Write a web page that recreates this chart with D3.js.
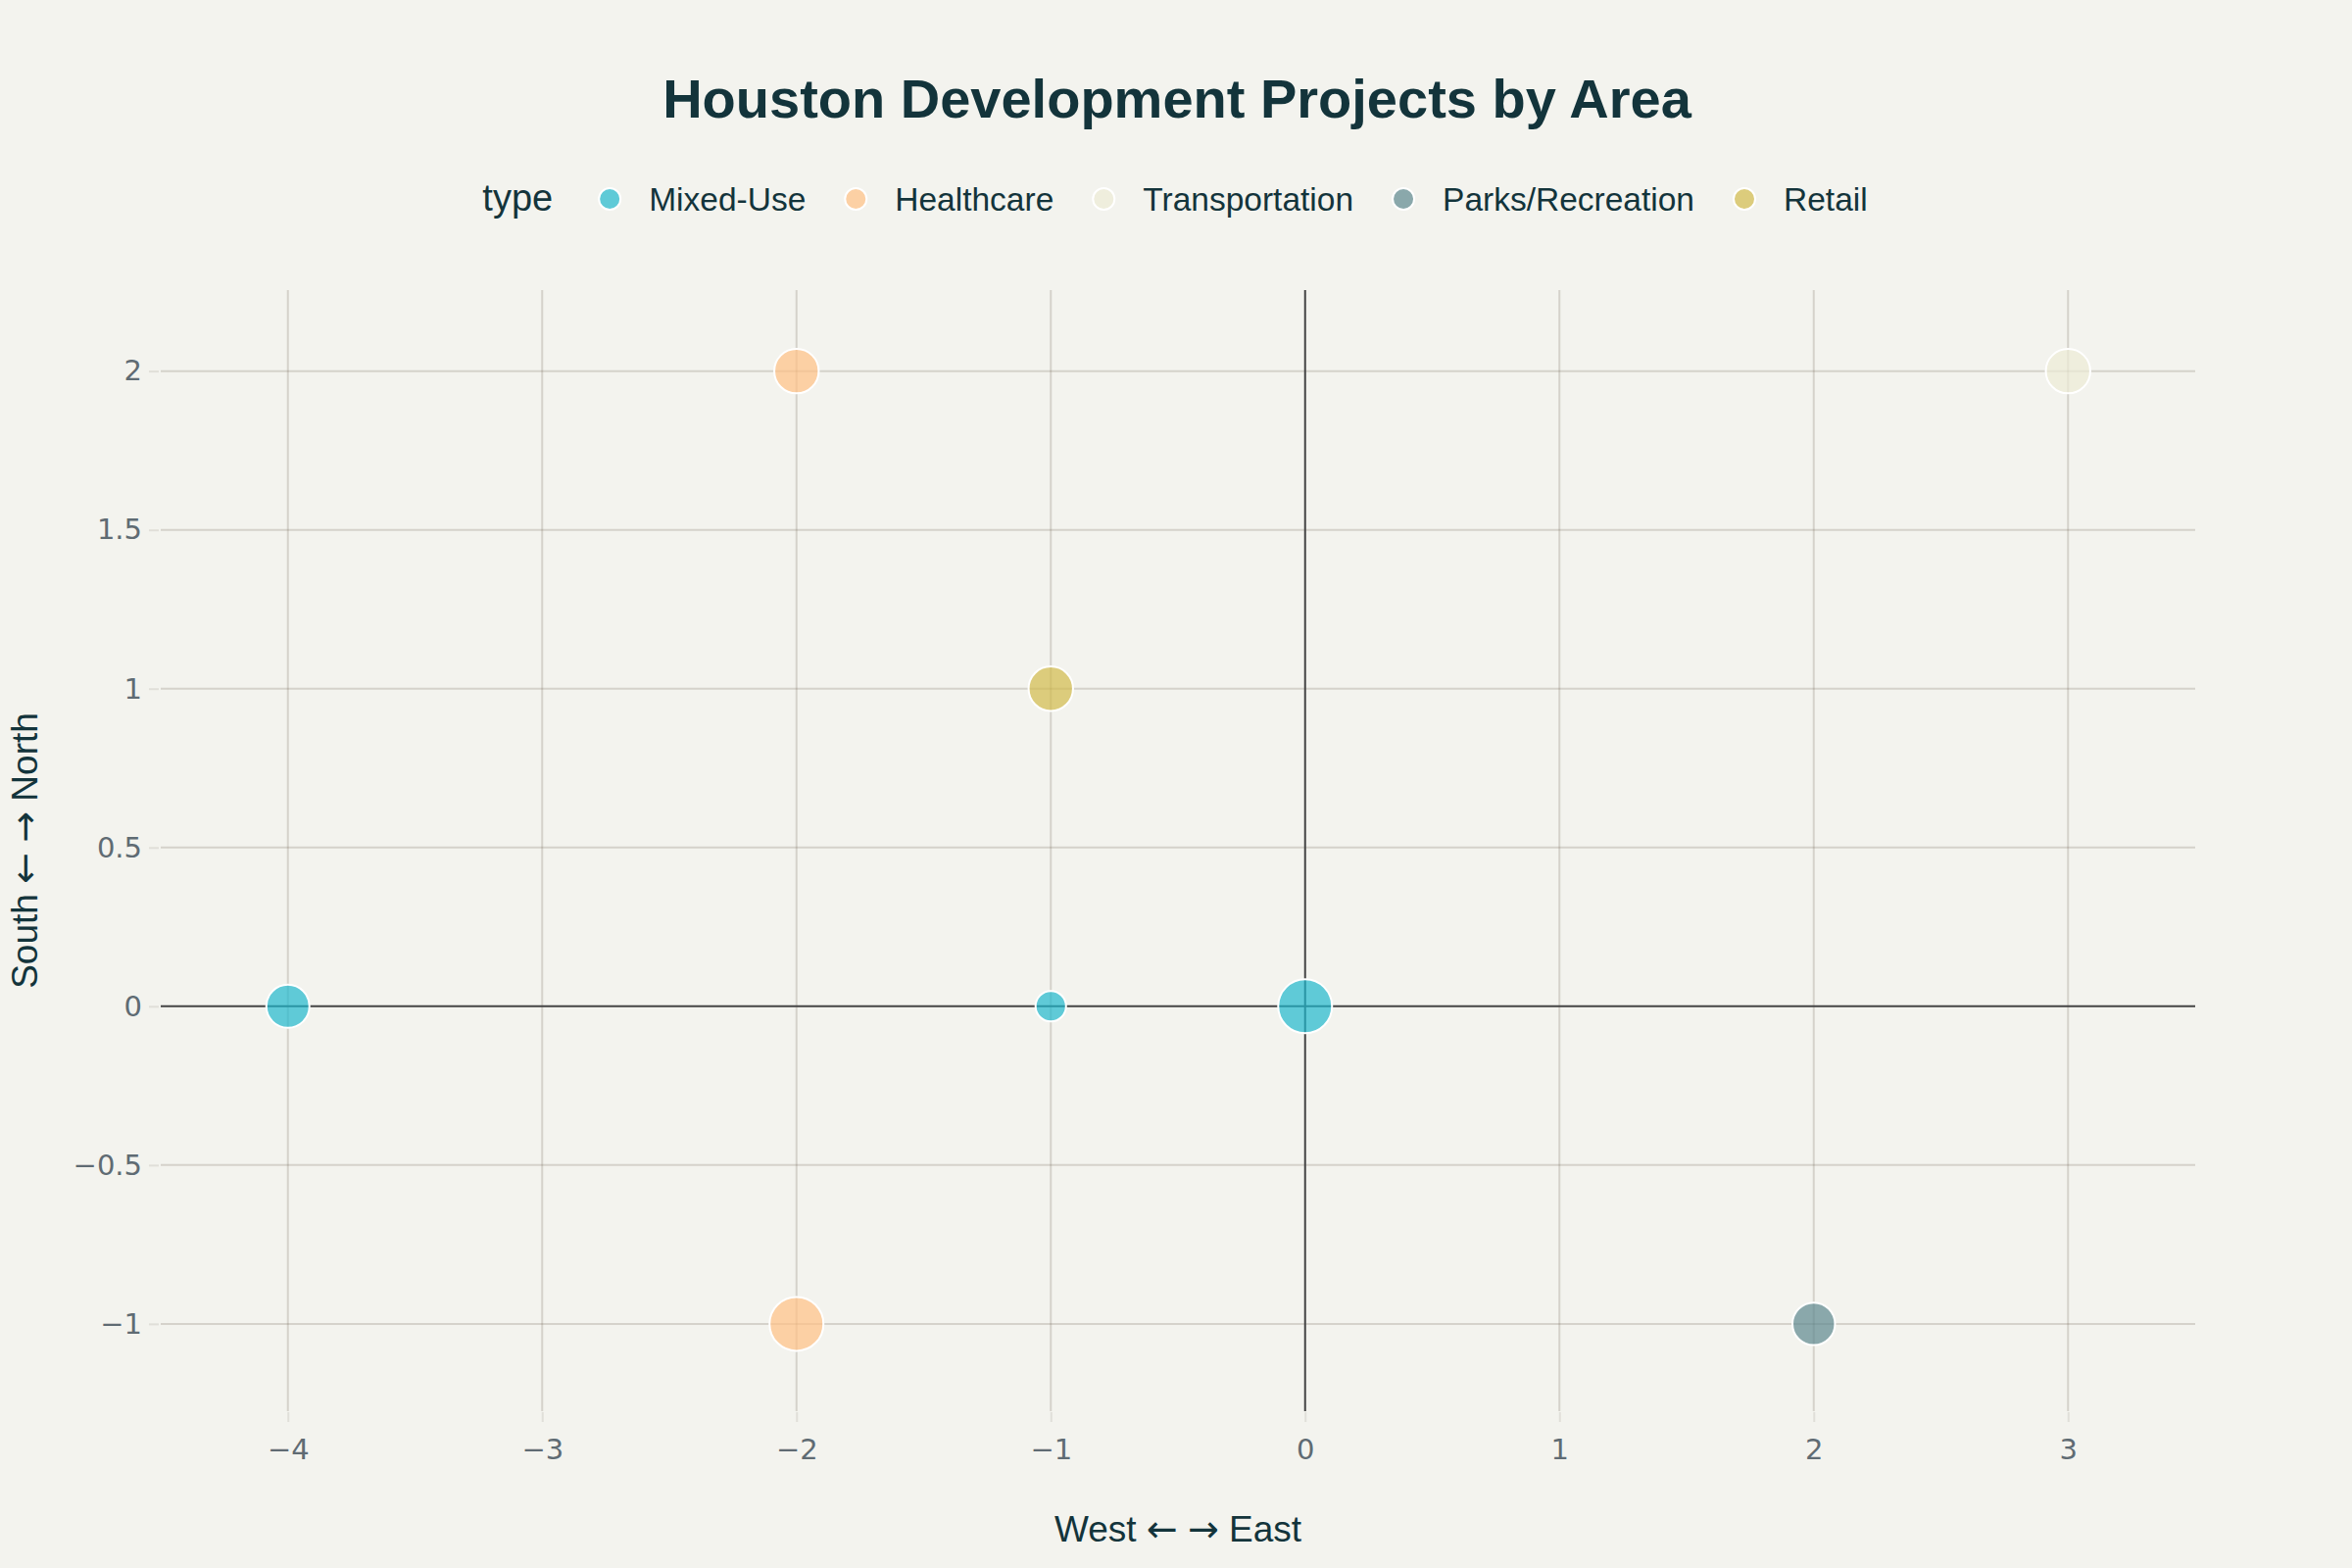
<!DOCTYPE html>
<html>
<head>
<meta charset="utf-8">
<script src="https://cdn.jsdelivr.net/npm/d3@7"></script>
<style>
  html, body { margin: 0; padding: 0; background: #F3F3EE; }
  svg { display: block; }
</style>
</head>
<body>
<svg id="chart" width="2400" height="1600"></svg>
<script>
// ---- Data ----
const categories = ["Mixed-Use", "Healthcare", "Transportation", "Parks/Recreation", "Retail"];
const categoryColors = ["#1FB8CD", "#FFC185", "#ECEBD5", "#5D878F", "#D2BA4C"];
const projectType = ["Mixed-Use", "Mixed-Use", "Mixed-Use", "Healthcare", "Healthcare", "Transportation", "Parks/Recreation", "Retail"];
const projectX = [-4, -1, 0, -2, -2, 3, 2, -1];
const projectY = [0, 0, 0, 2, -1, 2, -1, 1];
const projectSize = [800, 400, 1250, 850, 1250, 850, 780, 850];
const xTicks = [-4, -3, -2, -1, 0, 1, 2, 3];
const yTicks = [-1, -0.5, 0, 0.5, 1, 1.5, 2];
const chartTitle = "Houston Development Projects by Area";
const xTitleParts = ["West ", "\u2190", " ", "\u2192", " East"];
const yTitleParts = ["South ", "\u2190", " ", "\u2192", " North"];
const legendTitle = "type";

// ---- Layout ----
const W = 2400, H = 1600;
const plot = { left: 164, right: 2240, top: 296, bottom: 1440 };
const textColor = "#13343B";
const tickColor = "#5F6B73";
const gridColor = "rgba(94,82,64,0.2)";
const zeroColor = "#444444";
const mainFont = "'Liberation Sans', Arial, sans-serif";
const tickFont = "'DejaVu Sans', sans-serif";
const arrowFont = "'DejaVu Sans', sans-serif";

const svg = d3.select("#chart");
svg.append("rect").attr("width", W).attr("height", H).attr("fill", "#F3F3EE");

const x = d3.scaleLinear().domain([-4.5, 3.5]).range([plot.left, plot.right]);
const y = d3.scaleLinear().domain([-1.275, 2.255]).range([plot.bottom, plot.top]);
const r = d3.scaleSqrt().domain([0, d3.max(projectSize)]).range([0, 27.5]);
const color = d3.scaleOrdinal().domain(categories).range(categoryColors);

// Grid
const grid = svg.append("g");
grid.selectAll("line.vx").data(xTicks.filter(d => d !== 0)).join("line")
  .attr("x1", d => x(d)).attr("x2", d => x(d))
  .attr("y1", plot.top).attr("y2", plot.bottom)
  .attr("stroke", gridColor).attr("stroke-width", 2);
grid.selectAll("line.hy").data(yTicks.filter(d => d !== 0)).join("line")
  .attr("x1", plot.left).attr("x2", plot.right)
  .attr("y1", d => y(d)).attr("y2", d => y(d))
  .attr("stroke", gridColor).attr("stroke-width", 2);
// Zero lines
grid.append("line").attr("x1", x(0)).attr("x2", x(0)).attr("y1", plot.top).attr("y2", plot.bottom)
  .attr("stroke", zeroColor).attr("stroke-width", 2);
grid.append("line").attr("x1", plot.left).attr("x2", plot.right).attr("y1", y(0)).attr("y2", y(0))
  .attr("stroke", zeroColor).attr("stroke-width", 2);

// Axes
const fmt = d3.format("~g");
const xAxis = svg.append("g").attr("transform", `translate(0,${plot.bottom + 1})`)
  .call(d3.axisBottom(x).tickValues(xTicks).tickFormat(fmt).tickSize(10).tickPadding(17));
const yAxis = svg.append("g").attr("transform", `translate(${plot.left - 2},0)`)
  .call(d3.axisLeft(y).tickValues(yTicks).tickFormat(fmt).tickSize(10).tickPadding(7));
[xAxis, yAxis].forEach(a => {
  a.select(".domain").remove();
  a.selectAll(".tick line").attr("stroke", "rgba(94,82,64,0.12)").attr("stroke-width", 2);
  a.selectAll(".tick text").attr("fill", tickColor).attr("font-family", tickFont).attr("font-size", 29);
});

// Points
svg.append("g").selectAll("circle").data(d3.range(projectX.length)).join("circle")
  .attr("cx", i => x(projectX[i]))
  .attr("cy", i => y(projectY[i]))
  .attr("r", i => r(projectSize[i]))
  .attr("fill", i => color(projectType[i]))
  .attr("fill-opacity", 0.7)
  .attr("stroke", "#FFFFFF")
  .attr("stroke-width", 2);

// Title
svg.append("text").attr("x", 1201).attr("y", 120).attr("text-anchor", "middle")
  .attr("font-family", mainFont).attr("font-weight", "bold").attr("font-size", 56)
  .attr("fill", textColor).text(chartTitle);

// Axis titles (arrows in a font that has proper arrow glyphs)
function fillTitle(sel, parts) {
  parts.forEach(p => {
    const isArrow = p === "\u2190" || p === "\u2192";
    const ts = sel.append("tspan").text(p);
    if (isArrow) ts.attr("font-family", arrowFont).attr("font-size", 38);
  });
}
const xt = svg.append("text").attr("x", (plot.left + plot.right) / 2).attr("y", 1573).attr("text-anchor", "middle")
  .attr("font-family", mainFont).attr("font-size", 37).attr("fill", textColor);
fillTitle(xt, xTitleParts);
const yt = svg.append("text").attr("transform", `translate(38,${(plot.top + plot.bottom) / 2}) rotate(-90)`)
  .attr("text-anchor", "middle")
  .attr("font-family", mainFont).attr("font-size", 37).attr("fill", textColor);
fillTitle(yt, yTitleParts);

// Legend
const legend = svg.append("g");
const legY = 203;
const lt = legend.append("text").attr("x", 0).attr("y", legY + 12)
  .attr("font-family", mainFont).attr("font-size", 38).attr("fill", textColor).text(legendTitle);
let cursor = lt.node().getComputedTextLength() + 58;
categories.forEach((c, i) => {
  legend.append("circle").attr("cx", cursor).attr("cy", legY).attr("r", 11)
    .attr("fill", categoryColors[i]).attr("fill-opacity", 0.7)
    .attr("stroke", "#FFFFFF").attr("stroke-width", 2);
  const t = legend.append("text").attr("x", cursor + 40).attr("y", legY + 12)
    .attr("font-family", mainFont).attr("font-size", 33.5).attr("fill", textColor).text(c);
  const w = t.node().getComputedTextLength();
  cursor = cursor + 40 + w + (i < categories.length - 1 ? 51 : 0);
});
const legendWidth = cursor;
legend.attr("transform", `translate(${1199 - legendWidth / 2},0)`);
</script>
</body>
</html>
